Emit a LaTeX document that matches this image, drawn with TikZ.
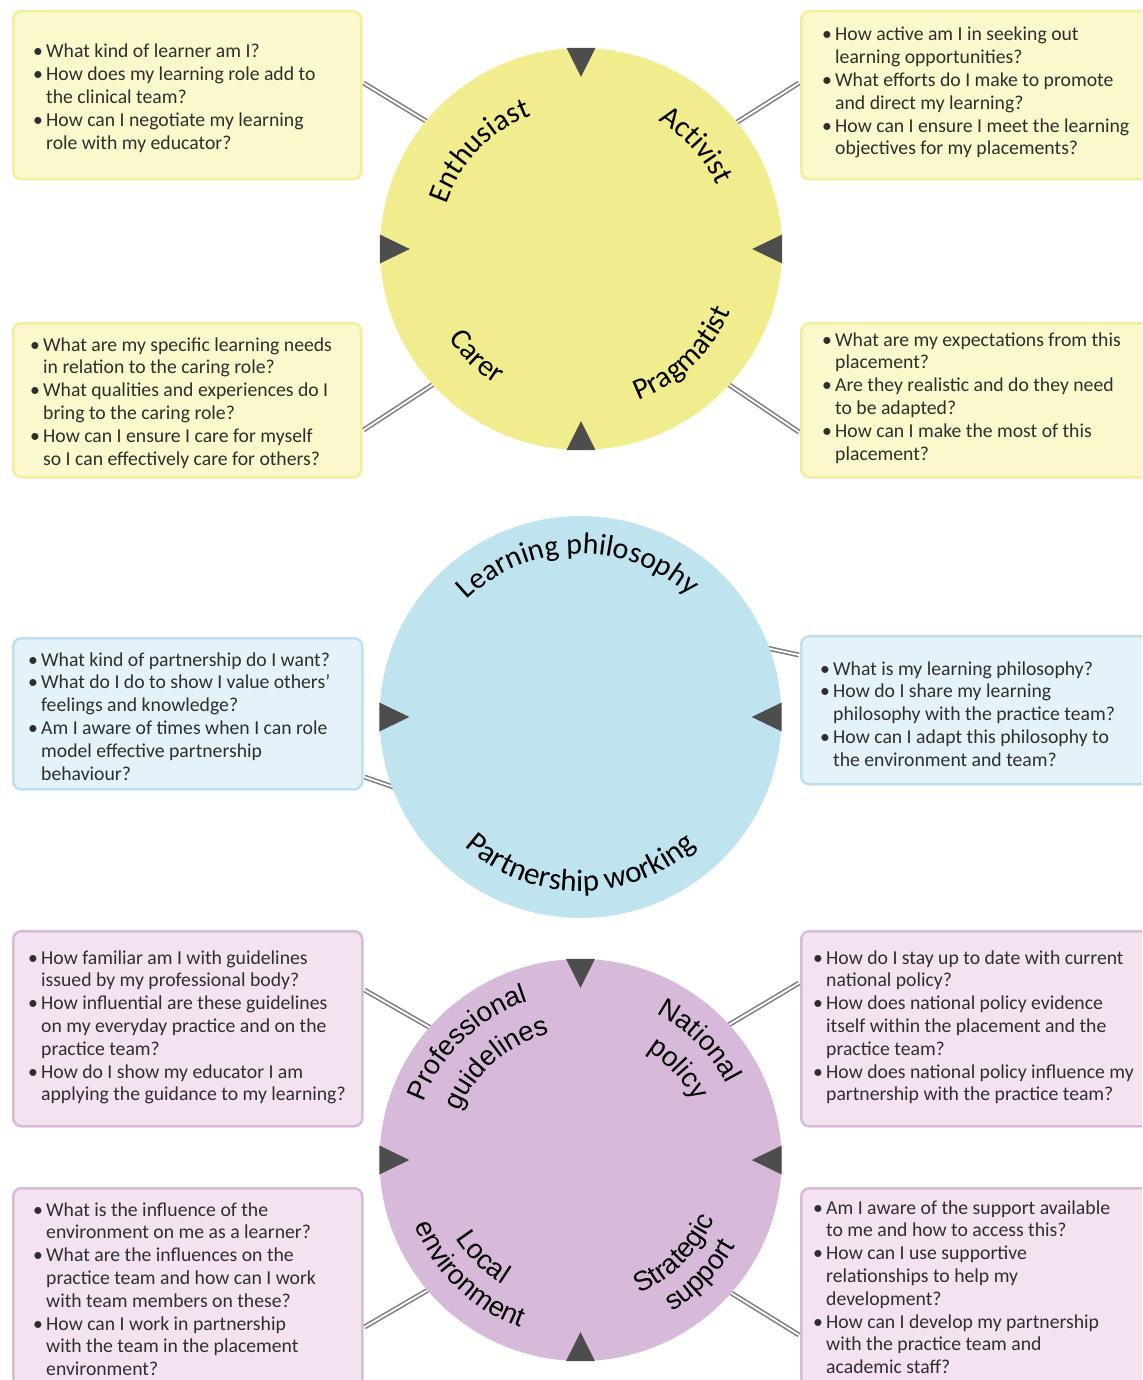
\documentclass[tikz,border=0pt]{standalone}
\usepackage{fontspec}
\setmainfont{Carlito}
\newfontfamily\arialf{Liberation Sans}
\usetikzlibrary{decorations.text,calc}
\definecolor{ycirc}{HTML}{F1ED8E}
\definecolor{yfill}{HTML}{FBF8CC}
\definecolor{yline}{HTML}{F2EE9E}
\definecolor{bcirc}{HTML}{BFE4F0}
\definecolor{bfill}{HTML}{E3F3F9}
\definecolor{bline}{HTML}{BCE0ED}
\definecolor{pcirc}{HTML}{D7BAD9}
\definecolor{pfill}{HTML}{F3E3F0}
\definecolor{pline}{HTML}{D8BBD9}
\definecolor{txt}{HTML}{2E2E2E}
\definecolor{arrowc}{HTML}{4D4D4D}
\newcommand{\bu}{\makebox[13pt][l]{\textbullet}}
\newcommand{\ind}{\hspace*{13pt}}
\newcommand{\qtxt}[1]{\fontsize{19.7}{22.8}\selectfont\begin{tabular}[t]{@{}l@{}}#1\end{tabular}}
\newcommand{\labfont}{\fontsize{30}{36}\selectfont}
\newcommand{\bigfont}{\fontsize{31}{36}\selectfont}
\newcommand{\arlabfont}{\arialf\fontsize{27.5}{32}\selectfont}
% clockwise arc text: letters' tops outward
\newcommand{\cwlabel}[5]{%
  \path[decorate,decoration={text along path,text align=center,text={|#4|#5}}]
    ($(#1)+({#2+80}:#3)$) arc[start angle={#2+80}, end angle={#2-80}, radius=#3];}
% counter-clockwise arc text: letters' tops inward
\newcommand{\ccwlabel}[5]{%
  \path[decorate,decoration={text along path,text align=center,text={|#4|#5}}]
    ($(#1)+({#2-80}:#3)$) arc[start angle={#2-80}, end angle={#2+80}, radius=#3];}
\begin{document}
\begin{tikzpicture}[x=1pt,y=1pt,
  box/.style={rectangle, rounded corners=8pt, line width=2.5pt, inner sep=0pt, anchor=north west},
  ybox/.style={box, fill=yfill, draw=yline},
  bbox/.style={box, fill=bfill, draw=bline},
  pbox/.style={box, fill=pfill, draw=pline},
  qt/.style={anchor=base west, inner sep=0pt, text=txt},
  big/.style={circle, inner sep=0pt, minimum size=402pt},
  conn/.style={draw=black!50, line width=1.6pt, double=white, double distance=1.8pt},
  tri/.style={fill=arrowc}]
\useasboundingbox (0,0) rectangle (1142,-1380);
\clip (0,0) rectangle (1142,-1380);

% ---------- boxes ----------
\node[ybox, minimum width=348pt, minimum height=168pt] (yb1) at (12,-10) {};
\node[ybox, minimum width=360pt, minimum height=168pt] (yb2) at (800,-10) {};
\node[ybox, minimum width=348pt, minimum height=154pt] (yb3) at (12,-322) {};
\node[ybox, minimum width=360pt, minimum height=154pt] (yb4) at (800,-322) {};
\node[bbox, minimum width=349pt, minimum height=151pt] (bb1) at (12,-637) {};
\node[bbox, minimum width=360pt, minimum height=148pt] (bb2) at (800,-635) {};
\node[pbox, minimum width=349pt, minimum height=195pt] (pb1) at (12,-930) {};
\node[pbox, minimum width=360pt, minimum height=195pt] (pb2) at (800,-930) {};
\node[pbox, minimum width=349pt, minimum height=220pt] (pb3) at (12,-1187) {};
\node[pbox, minimum width=360pt, minimum height=220pt] (pb4) at (800,-1187) {};

% ---------- circles ----------
\coordinate (Yc) at (581,-249);
\coordinate (Bc) at (580.5,-717);
\coordinate (Pc) at (580.5,-1160);

% ---------- connectors ----------
\coordinate (y1c) at ($(Yc)+(140:190)$);
\coordinate (y2c) at ($(Yc)+(39.5:190)$);
\coordinate (y3c) at ($(Yc)+(223:190)$);
\coordinate (y4c) at ($(Yc)+(317:190)$);
\coordinate (b1c) at ($(Bc)+(203:190)$);
\coordinate (b2c) at ($(Bc)+(22:190)$);
\coordinate (p1c) at ($(Pc)+(138:190)$);
\coordinate (p2c) at ($(Pc)+(43:190)$);
\coordinate (p3c) at ($(Pc)+(221:190)$);
\coordinate (p4c) at ($(Pc)+(318:190)$);
\draw[conn] ($(yb1.north east)+(1,-73)$) -- (y1c);
\draw[conn] ($(yb2.north west)+(-1,-73)$) -- (y2c);
\draw[conn] ($(yb3.north east)+(1,-108)$) -- (y3c);
\draw[conn] ($(yb4.north west)+(-1,-110)$) -- (y4c);
\draw[conn] ($(bb1.north east)+(1,-140)$) -- (b1c);
\draw[conn] ($(bb2.north west)+(-1,-20)$) -- (b2c);
\draw[conn] ($(pb1.north east)+(1,-60)$) -- (p1c);
\draw[conn] ($(pb2.north west)+(-1,-53)$) -- (p2c);
\draw[conn] ($(pb3.north east)+(1,-140)$) -- (p3c);
\draw[conn] ($(pb4.north west)+(-1,-148)$) -- (p4c);

\node[big, fill=ycirc] (Y) at (Yc) {};
\node[big, fill=bcirc] (B) at (Bc) {};
\node[big, fill=pcirc] (P) at (Pc) {};

% ---------- arrow heads ----------
\fill[tri] ($(Y.north)+(-14.5,0)$) -- ($(Y.north)+(14.5,0)$) -- ($(Y.north)+(0,-29)$) -- cycle;
\fill[tri] ($(Y.south)+(-14.5,0)$) -- ($(Y.south)+(14.5,0)$) -- ($(Y.south)+(0,29)$) -- cycle;
\fill[tri] ($(Y.west)+(0,14.5)$) -- ($(Y.west)+(0,-14.5)$) -- ($(Y.west)+(30,0)$) -- cycle;
\fill[tri] ($(Y.east)+(0,14.5)$) -- ($(Y.east)+(0,-14.5)$) -- ($(Y.east)+(-30,0)$) -- cycle;
\fill[tri] ($(B.west)+(0,14.5)$) -- ($(B.west)+(0,-14.5)$) -- ($(B.west)+(30,0)$) -- cycle;
\fill[tri] ($(B.east)+(0,14.5)$) -- ($(B.east)+(0,-14.5)$) -- ($(B.east)+(-30,0)$) -- cycle;
\fill[tri] ($(P.north)+(-14.5,0)$) -- ($(P.north)+(14.5,0)$) -- ($(P.north)+(0,-29)$) -- cycle;
\fill[tri] ($(P.south)+(-14.5,0)$) -- ($(P.south)+(14.5,0)$) -- ($(P.south)+(0,29)$) -- cycle;
\fill[tri] ($(P.west)+(0,14.5)$) -- ($(P.west)+(0,-14.5)$) -- ($(P.west)+(30,0)$) -- cycle;
\fill[tri] ($(P.east)+(0,14.5)$) -- ($(P.east)+(0,-14.5)$) -- ($(P.east)+(-30,0)$) -- cycle;

% ---------- circle labels ----------
\cwlabel{Yc}{136}{142}{\labfont}{Enthusiast}
\cwlabel{Yc}{42}{150}{\labfont}{Activist}
\ccwlabel{Yc}{226}{160}{\labfont}{Carer}
\ccwlabel{Yc}{314}{162}{\labfont}{Pragmatist}
\cwlabel{Bc}{91}{163}{\labfont}{Learning philosophy}
\ccwlabel{Bc}{270}{174}{\bigfont}{Partnership working}
\cwlabel{Pc}{134}{167}{\arlabfont}{Professional}
\cwlabel{Pc}{131}{130}{\arlabfont}{guidelines}
\cwlabel{Pc}{45}{165}{\arlabfont}{National}
\cwlabel{Pc}{43}{128}{\arlabfont}{policy}
\ccwlabel{Pc}{225}{147}{\arlabfont}{Local}
\ccwlabel{Pc}{226}{178}{\arlabfont}{environment}
\ccwlabel{Pc}{315}{146}{\arlabfont}{Strategic}
\ccwlabel{Pc}{316}{177}{\arlabfont}{support}

% ---------- question texts ----------
\node[qt] (t1) at (33,-58) {\qtxt{\bu What kind of learner am I?\\
\bu How does my learning role add to\\
\ind the clinical team?\\
\bu How can I negotiate my learning\\
\ind role with my educator?}};
\node[qt] (t2) at (822,-41) {\qtxt{\bu How active am I in seeking out\\
\ind learning opportunities?\\
\bu What efforts do I make to promote\\
\ind and direct my learning?\\
\bu How can I ensure I meet the learning\\
\ind objectives for my placements?}};
\node[qt] (t3) at (30,-351) {\qtxt{\bu What are my specific learning needs\\
\ind in relation to the caring role?\\
\bu What qualities and experiences do I\\
\ind bring to the caring role?\\
\bu How can I ensure I care for myself\\
\ind so I can effectively care for others?}};
\node[qt] (t4) at (822,-346) {\qtxt{\bu What are my expectations from this\\
\ind placement?\\
\bu Are they realistic and do they need\\
\ind to be adapted?\\
\bu How can I make the most of this\\
\ind placement?}};
\node[qt] (t5) at (28,-666) {\qtxt{\bu What kind of partnership do I want?\\
\bu What do I do to show I value others’\\
\ind feelings and knowledge?\\
\bu Am I aware of times when I can role\\
\ind model effective partnership\\
\ind behaviour?}};
\node[qt] (t6) at (820,-675) {\qtxt{\bu What is my learning philosophy?\\
\bu How do I share my learning\\
\ind philosophy with the practice team?\\
\bu How can I adapt this philosophy to\\
\ind the environment and team?}};
\node[qt] (t7) at (28,-964) {\qtxt{\bu How familiar am I with guidelines\\
\ind issued by my professional body?\\
\bu How influential are these guidelines\\
\ind on my everyday practice and on the\\
\ind practice team?\\
\bu How do I show my educator I am\\
\ind applying the guidance to my learning?}};
\node[qt] (t8) at (813,-964) {\qtxt{\bu How do I stay up to date with current\\
\ind national policy?\\
\bu How does national policy evidence\\
\ind itself within the placement and the\\
\ind practice team?\\
\bu How does national policy influence my\\
\ind partnership with the practice team?}};
\node[qt] (t9) at (33,-1216) {\qtxt{\bu What is the influence of the\\
\ind environment on me as a learner?\\
\bu What are the influences on the\\
\ind practice team and how can I work\\
\ind with team members on these?\\
\bu How can I work in partnership\\
\ind with the team in the placement\\
\ind environment?}};
\node[qt] (t10) at (813,-1214) {\qtxt{\bu Am I aware of the support available\\
\ind to me and how to access this?\\
\bu How can I use supportive\\
\ind relationships to help my\\
\ind development?\\
\bu How can I develop my partnership\\
\ind with the practice team and\\
\ind academic staff?}};
\end{tikzpicture}
\end{document}
